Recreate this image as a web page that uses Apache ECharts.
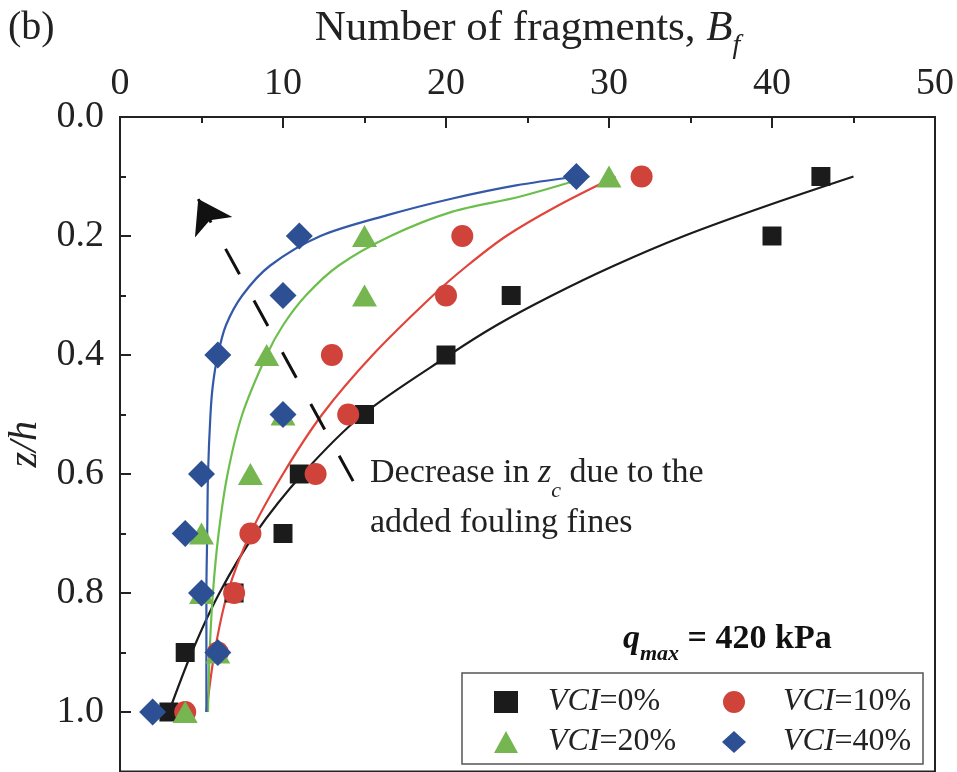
<!DOCTYPE html>
<html>
<head>
<meta charset="utf-8">
<script src="https://cdn.jsdelivr.net/npm/echarts@6/dist/echarts.min.js"></script>
<style>
html, body { margin: 0; padding: 0; background: #fff; }
#main { width: 957px; height: 772px; }
</style>
</head>
<body>
<div id="main"></div>
<script>
// measured points: [B_f, z/h]
var vci0 = [[43, 0.1], [40, 0.2], [24, 0.3], [20, 0.4], [15, 0.5], [11, 0.6], [10, 0.7], [7, 0.8], [4, 0.9], [3, 1.0]];
var vci10 = [[32, 0.1], [21, 0.2], [20, 0.3], [13, 0.4], [14, 0.5], [12, 0.6], [8, 0.7], [7, 0.8], [6, 0.9], [4, 1.0]];
var vci20 = [[30, 0.1], [15, 0.2], [15, 0.3], [9, 0.4], [10, 0.5], [8, 0.6], [5, 0.7], [5, 0.8], [6, 0.9], [4, 1.0]];
var vci40 = [[28, 0.1], [11, 0.2], [10, 0.3], [6, 0.4], [10, 0.5], [5, 0.6], [4, 0.7], [5, 0.8], [6, 0.9], [2, 1.0]];

// fitted curves
var fit0 = [[45, 0.1], [39.6, 0.15], [34.6, 0.2], [30.3, 0.25], [26.5, 0.3], [23.1, 0.35], [20.2, 0.4], [14.9, 0.5], [11.2, 0.6], [8.3, 0.7], [6.1, 0.8], [4.4, 0.9], [3.0, 1.0]];
var fit10 = [[30.4, 0.1], [26.8, 0.15], [23.7, 0.2], [21.3, 0.25], [19.2, 0.3], [15.5, 0.4], [12.4, 0.5], [10.0, 0.6], [8.0, 0.7], [6.6, 0.8], [5.8, 0.9], [5.3, 1.0]];
var fit20 = [[28.8, 0.1], [24.5, 0.134], [20.4, 0.159], [16.6, 0.2], [13.4, 0.25], [11.4, 0.3], [10.0, 0.35], [9.0, 0.4], [7.5, 0.5], [6.6, 0.6], [6.05, 0.7], [5.7, 0.8], [5.5, 0.9], [5.4, 1.0]];
var fit40 = [[28, 0.1], [24.3, 0.115], [20.4, 0.137], [16.4, 0.165], [12.3, 0.2], [9.2, 0.25], [7.5, 0.3], [6.5, 0.35], [6.0, 0.4], [5.7, 0.45], [5.55, 0.5], [5.4, 0.6], [5.35, 0.7], [5.3, 0.8], [5.3, 0.9], [5.3, 1.0]];

// dashed arrow (start -> tip)
var arrowLine = [[14.3, 0.612], [4.8, 0.138]];

var names = ["VCI=0%", "VCI=10%", "VCI=20%", "VCI=40%"];
var colors = ["#1b1b1b", "#d0433a", "#76b651", "#2d4f93"];
var fitColors = ["#1b1b1b", "#e0443a", "#6cbf4c", "#3359a8"];

var FONT = "Liberation Serif";
var chart = echarts.init(document.getElementById("main"));

function legendFmt(name) {
  return "{i|VCI}" + name.slice(3);
}
// one legend per column so the columns line up
function legendCol(items, left, textPad) {
  return {
    data: items,
    orient: "vertical",
    left: left,
    top: 686,
    height: 100,
    padding: 0,
    itemWidth: 24,
    itemHeight: 22,
    itemGap: 8,
    formatter: legendFmt,
    textStyle: {
      fontFamily: FONT, fontSize: 32, color: "#222", lineHeight: 22,
      padding: [0, 0, 0, textPad],
      rich: { i: { fontStyle: "italic", fontFamily: FONT, fontSize: 32, color: "#222", lineHeight: 22 } }
    }
  };
}

chart.setOption({
  animation: false,
  backgroundColor: "#fff",
  grid: {
    left: 120,
    top: 117,
    right: 22,
    height: 654.5,
    outerBoundsMode: "none",
    containLabel: false,
    show: true,
    borderColor: "#222",
    borderWidth: 2
  },
  xAxis: {
    type: "value",
    position: "top",
    min: 0,
    max: 50,
    interval: 10,
    name: "Number of fragments, {i|B}{s|f}",
    nameLocation: "middle",
    nameGap: 52,
    nameTextStyle: {
      fontFamily: FONT,
      fontSize: 43,
      color: "#222",
      rich: {
        i: { fontFamily: FONT, fontSize: 43, fontStyle: "italic", color: "#222", lineHeight: 50, verticalAlign: "middle" },
        s: { fontFamily: FONT, fontSize: 28, fontStyle: "italic", color: "#222", lineHeight: 62, verticalAlign: "bottom" }
      }
    },
    axisLine: { lineStyle: { color: "#222", width: 2 } },
    axisTick: { inside: true, length: 11, lineStyle: { color: "#222", width: 2 } },
    minorTick: { show: true, splitNumber: 2, length: 6, lineStyle: { color: "#222", width: 2 } },
    splitLine: { show: false },
    axisLabel: { fontFamily: FONT, fontSize: 38, color: "#222", margin: 14 }
  },
  yAxis: {
    type: "value",
    inverse: true,
    min: 0,
    max: 1.1,
    interval: 0.2,
    name: "z/h",
    nameLocation: "middle",
    nameGap: 74,
    nameRotate: 90,
    nameTextStyle: { fontFamily: FONT, fontSize: 40, fontStyle: "italic", color: "#222" },
    axisLine: { lineStyle: { color: "#222", width: 2 } },
    axisTick: { inside: true, length: 11, lineStyle: { color: "#222", width: 2 } },
    minorTick: { show: true, splitNumber: 2, length: 6, lineStyle: { color: "#222", width: 2 } },
    splitLine: { show: false },
    axisLabel: {
      fontFamily: FONT, fontSize: 38, color: "#222", margin: 16,
      showMaxLabel: false,
      formatter: function (v) { return v.toFixed(1); }
    }
  },
  legend: [
    legendCol([names[0], names[2]], 494, 25),
    legendCol([names[1], names[3]], 722, 32)
  ],
  graphic: [
    {
      type: "rect",
      shape: { x: 462, y: 673, width: 461, height: 91 },
      style: { fill: null, stroke: "#555", lineWidth: 1.5 },
      z: 10
    },
    {
      type: "text",
      left: 8,
      top: 8,
      style: { text: "(b)", fontFamily: FONT, fontSize: 40, fill: "#222" }
    },
    {
      type: "text",
      left: 370,
      top: 444,
      style: {
        text: "Decrease in {i|z}{s|c} due to the\nadded fouling fines",
        fontFamily: FONT,
        fontSize: 34,
        fill: "#222",
        lineHeight: 42,
        rich: {
          i: { fontFamily: FONT, fontSize: 34, fontStyle: "italic", fill: "#222", lineHeight: 42, verticalAlign: "middle" },
          s: { fontFamily: FONT, fontSize: 22, fontStyle: "italic", fill: "#222", lineHeight: 58, verticalAlign: "bottom" }
        }
      }
    },
    {
      type: "text",
      left: 623,
      top: 622,
      style: {
        text: "{q|q}{s|max} = 420 kPa",
        fontFamily: FONT,
        fontSize: 34,
        fontWeight: "bold",
        fill: "#111",
        rich: {
          q: { fontFamily: FONT, fontSize: 34, fontWeight: "bold", fontStyle: "italic", fill: "#111", lineHeight: 38, verticalAlign: "middle" },
          s: { fontFamily: FONT, fontSize: 22, fontWeight: "bold", fontStyle: "italic", fill: "#111", lineHeight: 52, verticalAlign: "bottom" }
        }
      }
    }
  ],
  series: [
    { type: "line", data: fit0, showSymbol: false, smooth: 0.3, silent: true, lineStyle: { color: fitColors[0], width: 2.2 }, z: 2 },
    { type: "line", data: fit10, showSymbol: false, smooth: 0.3, silent: true, lineStyle: { color: fitColors[1], width: 2.2 }, z: 2 },
    { type: "line", data: fit20, showSymbol: false, smooth: 0.3, silent: true, lineStyle: { color: fitColors[2], width: 2.2 }, z: 2 },
    { type: "line", data: fit40, showSymbol: false, smooth: 0.3, silent: true, lineStyle: { color: fitColors[3], width: 2.2 }, z: 2 },
    {
      type: "lines",
      coordinateSystem: "cartesian2d",
      silent: true,
      symbol: ["none", "arrow"],
      symbolSize: [19, 32],
      lineStyle: { color: "#111", width: 3, type: [29, 30], opacity: 1 },
      data: [{ coords: arrowLine }],
      z: 3
    },
    { name: names[0], type: "scatter", data: vci0, symbol: "rect", symbolSize: 19, itemStyle: { color: colors[0], opacity: 1 }, z: 4 },
    { name: names[1], type: "scatter", data: vci10, symbol: "circle", symbolSize: 22, itemStyle: { color: colors[1], opacity: 1 }, z: 4 },
    { name: names[2], type: "scatter", data: vci20, symbol: "triangle", symbolSize: [25, 22], itemStyle: { color: colors[2], opacity: 1 }, z: 4 },
    { name: names[3], type: "scatter", data: vci40, symbol: "diamond", symbolSize: 27, itemStyle: { color: colors[3], opacity: 1 }, z: 4 }
  ]
});
</script>
</body>
</html>
